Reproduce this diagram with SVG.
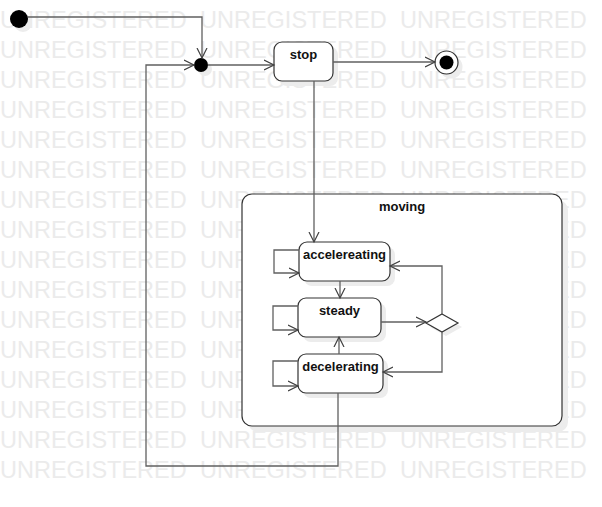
<svg xmlns="http://www.w3.org/2000/svg" width="602" height="507" viewBox="0 0 602 507">
<style>
.wm{font-family:"Liberation Sans",Arial,sans-serif;font-size:23.5px;fill:#ebebeb}
.shadow{fill:#ececec;stroke:none}
.node{fill:#fff;stroke:#333;stroke-width:1.2}
.lbl{font-family:"Liberation Sans",Arial,sans-serif;font-size:13px;font-weight:bold;fill:#111;text-anchor:middle}
.edge{fill:none;stroke:#606060;stroke-width:1.3;marker-end:url(#arr)}
</style>
<defs>
<marker id="arr" markerUnits="userSpaceOnUse" markerWidth="12" markerHeight="12" refX="10" refY="5.5" orient="auto" viewBox="0 0 12 11">
<path d="M0,0.5 L10,5.5 L0,10.5" fill="none" stroke="#404040" stroke-width="1.2"/>
</marker>
</defs>
<rect width="602" height="507" fill="#fff"/>
<g id="watermark">
<text class="wm" x="0" y="28">UNREGISTERED</text><text class="wm" x="200" y="28">UNREGISTERED</text><text class="wm" x="400" y="28">UNREGISTERED</text>
<text class="wm" x="0" y="58">UNREGISTERED</text><text class="wm" x="200" y="58">UNREGISTERED</text><text class="wm" x="400" y="58">UNREGISTERED</text>
<text class="wm" x="0" y="88">UNREGISTERED</text><text class="wm" x="200" y="88">UNREGISTERED</text><text class="wm" x="400" y="88">UNREGISTERED</text>
<text class="wm" x="0" y="118">UNREGISTERED</text><text class="wm" x="200" y="118">UNREGISTERED</text><text class="wm" x="400" y="118">UNREGISTERED</text>
<text class="wm" x="0" y="148">UNREGISTERED</text><text class="wm" x="200" y="148">UNREGISTERED</text><text class="wm" x="400" y="148">UNREGISTERED</text>
<text class="wm" x="0" y="178">UNREGISTERED</text><text class="wm" x="200" y="178">UNREGISTERED</text><text class="wm" x="400" y="178">UNREGISTERED</text>
<text class="wm" x="0" y="208">UNREGISTERED</text><text class="wm" x="200" y="208">UNREGISTERED</text><text class="wm" x="400" y="208">UNREGISTERED</text>
<text class="wm" x="0" y="238">UNREGISTERED</text><text class="wm" x="200" y="238">UNREGISTERED</text><text class="wm" x="400" y="238">UNREGISTERED</text>
<text class="wm" x="0" y="268">UNREGISTERED</text><text class="wm" x="200" y="268">UNREGISTERED</text><text class="wm" x="400" y="268">UNREGISTERED</text>
<text class="wm" x="0" y="298">UNREGISTERED</text><text class="wm" x="200" y="298">UNREGISTERED</text><text class="wm" x="400" y="298">UNREGISTERED</text>
<text class="wm" x="0" y="328">UNREGISTERED</text><text class="wm" x="200" y="328">UNREGISTERED</text><text class="wm" x="400" y="328">UNREGISTERED</text>
<text class="wm" x="0" y="358">UNREGISTERED</text><text class="wm" x="200" y="358">UNREGISTERED</text><text class="wm" x="400" y="358">UNREGISTERED</text>
<text class="wm" x="0" y="388">UNREGISTERED</text><text class="wm" x="200" y="388">UNREGISTERED</text><text class="wm" x="400" y="388">UNREGISTERED</text>
<text class="wm" x="0" y="418">UNREGISTERED</text><text class="wm" x="200" y="418">UNREGISTERED</text><text class="wm" x="400" y="418">UNREGISTERED</text>
<text class="wm" x="0" y="448">UNREGISTERED</text><text class="wm" x="200" y="448">UNREGISTERED</text><text class="wm" x="400" y="448">UNREGISTERED</text>
<text class="wm" x="0" y="478">UNREGISTERED</text><text class="wm" x="200" y="478">UNREGISTERED</text><text class="wm" x="400" y="478">UNREGISTERED</text>
</g>
<g id="moving">
<rect class="shadow" x="248" y="200" width="320" height="232" rx="10"/>
<rect class="node" x="242" y="194" width="320" height="232" rx="10"/>
<text class="lbl" x="402" y="211">moving</text>
</g>
<g id="initial">
<circle class="shadow" cx="23" cy="23" r="9"/>
<circle cx="19" cy="19" r="9" fill="#000"/>
</g>
<g id="junction">
<circle class="shadow" cx="205" cy="69" r="7"/>
<circle cx="201" cy="65" r="7" fill="#000"/>
</g>
<g id="stop">
<rect class="shadow" x="279" y="47" width="59" height="39" rx="8"/>
<rect class="node" x="274" y="42" width="59" height="39" rx="8"/>
<text class="lbl" x="303.5" y="59">stop</text>
</g>
<g id="final">
<circle class="shadow" cx="451" cy="67" r="11.5"/>
<circle class="node" cx="446.5" cy="62.5" r="11.5"/>
<circle cx="446.5" cy="62.5" r="7" fill="#000"/>
</g>
<g id="accelereating">
<rect class="shadow" x="304" y="247" width="91" height="39" rx="8"/>
<rect class="node" x="299" y="242" width="91" height="39" rx="8"/>
<text class="lbl" x="344.5" y="259">accelereating</text>
</g>
<g id="steady">
<rect class="shadow" x="303" y="303" width="83" height="39" rx="8"/>
<rect class="node" x="298" y="298" width="83" height="39" rx="8"/>
<text class="lbl" x="339.5" y="315">steady</text>
</g>
<g id="decelerating">
<rect class="shadow" x="303" y="359" width="85" height="39" rx="8"/>
<rect class="node" x="298" y="354" width="85" height="39" rx="8"/>
<text class="lbl" x="340.5" y="371">decelerating</text>
</g>
<g id="choice">
<polygon class="shadow" points="446,318 462,327 446,336 430,327"/>
<polygon class="node" points="442,314 458,323 442,332 426,323"/>
</g>
<g id="connectors">
<path class="edge" d="M28,17 H202 V58"/>
<path class="edge" d="M208,65 H274"/>
<path class="edge" d="M333,62 H435"/>
<path class="edge" d="M314,81 V242"/>
<path class="edge" d="M299,250 H274 V273 H299"/>
<path class="edge" d="M340,281 V298"/>
<path class="edge" d="M298,306 H273 V330 H298"/>
<path class="edge" d="M381,322 H426"/>
<path class="edge" d="M442,314 V266 H390"/>
<path class="edge" d="M442,332 V372 H383"/>
<path class="edge" d="M339,354 V337"/>
<path class="edge" d="M298,361 H273 V386 H298"/>
<path class="edge" d="M338,393 V466 H146 V65 H194"/>
</g>
</svg>
